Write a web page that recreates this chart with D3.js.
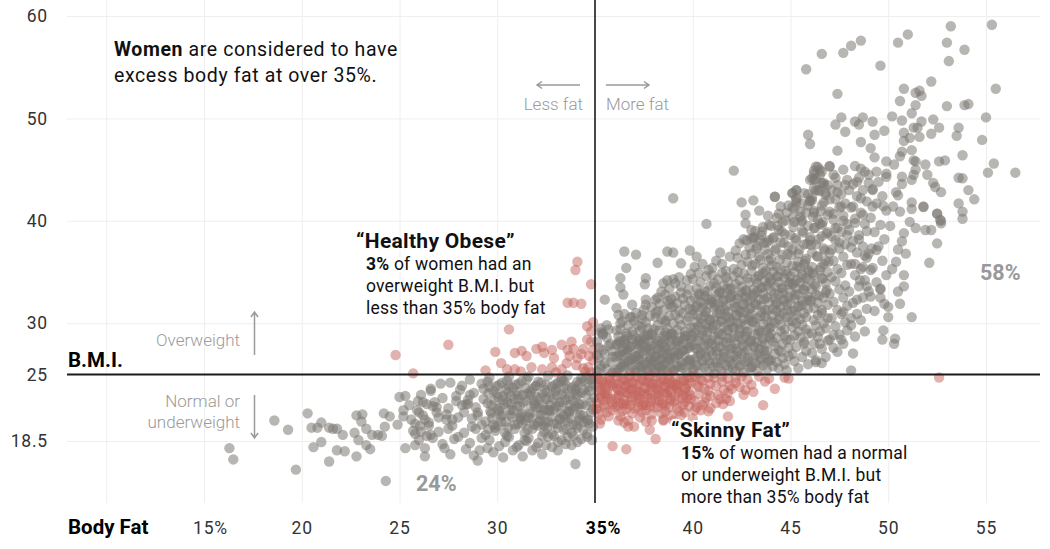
<!DOCTYPE html>
<html><head><meta charset="utf-8">
<script src="https://cdn.jsdelivr.net/npm/d3@7"></script>
<style>
body{margin:0;background:#fff;}
svg{display:block;font-family:Roboto,"Noto Sans",sans-serif;}
</style></head><body>
<svg id="chart" width="1050" height="549"></svg>
<script>
const bodyFatTicks=[10,15,20,25,30,35,40,45,50,55];
const bmiTicks=[18.5,25,30,40,50,60];

// [body fat %, BMI] — women with normal/underweight BMI and under 35% body fat
const grayLowerLeft=[
[16.3,17.8],[16.5,16.7],[18.6,20.5],[19.3,19.6],[19.7,15.7],[20.3,21.2],[20.5,19.8],[20.8,19.8],[21.0,20.3],[20.6,17.9],[21.0,18.4],[21.4,19.8],[21.6,19.7],[21.8,19.7],[21.4,16.5],[21.8,17.6],[22.2,17.5],[22.1,19.1],[22.8,17.0],[22.7,19.3],[22.9,18.6],[22.8,21.0],[23.1,21.1],[23.05,20.4],[23.3,19.7],[23.3,18.1],[23.5,17.7],[23.6,19.1],[23.9,19.1],[24.1,19.0],[24.25,19.9],[24.2,21.2],[24.5,20.9],[24.3,14.6],[25.0,22.8],[25.3,22.9],[25.5,22.0],[24.9,20.1],[25.2,21.5],[25.2,20.9],[25.3,17.8],[25.8,18.1],[25.7,19.5],[26.05,20.0],[25.95,22.4],[26.2,22.3],[26.3,17.0],[26.6,23.6],[34.0,16.25],
[25.9,21.5],[26.1,19.4],[26.3,20.6],[26.0,18.6],[26.4,22.1],[25.8,20.2],[26.2,21.0],[26.4,19.0],[26.1,23.0],[26.3,17.8],
[25.6,20.6],[25.8,19.2],[26.0,21.3],[26.5,20.0],[26.7,21.9],[27.0,20.8],
[26.6,23.4],[27.2,22.7],[26.9,21.8],[27.4,21.1],[26.5,20.3],[27.0,19.4],[26.7,18.8],[27.3,17.8],[26.8,22.3],[27.4,20.6],[26.6,19.1],[27.1,24.1],[26.9,21.3],[27.2,18.2],
[27.6,24.2],[28.1,23.5],[27.9,22.9],[28.4,22.1],[27.5,21.7],[28.0,20.8],[27.7,20.0],[28.3,19.3],[27.8,18.7],[28.4,17.7],[27.6,17.2],[28.2,23.9],[27.9,22.4],[28.3,21.3],[27.5,19.7],[28.0,18.9],[27.7,20.6],[28.2,22.0],
[28.6,24.5],[29.2,24.1],[28.8,23.2],[29.3,22.6],[28.5,22.1],[29.0,21.3],[28.7,20.7],[29.2,20.1],[28.9,19.7],[29.4,19.1],[28.6,18.3],[29.1,17.6],[28.8,17.1],[29.3,23.6],[28.5,22.5],[29.0,21.0],[28.7,19.9],[29.2,18.8],[28.9,21.8],[29.4,20.4],[28.6,23.0],[29.0,16.6],
[29.6,24.7],[30.1,24.0],[29.8,23.4],[30.3,22.9],[29.5,22.2],[30.0,21.6],[29.7,21.2],[30.2,20.4],[29.9,19.8],[30.4,19.3],[29.6,18.6],[30.1,18.0],[29.8,17.4],[30.3,16.9],[29.5,24.3],[30.0,23.1],[29.7,22.0],[30.2,20.9],[29.9,19.5],[30.4,18.4],[29.6,23.8],[30.1,21.4],[29.8,20.1],[30.3,22.5],[29.5,17.8],
[30.6,24.8],[31.1,24.1],[30.8,23.7],[31.3,23.0],[30.5,22.3],[31.0,21.9],[30.7,21.1],[31.2,20.6],[30.9,20.1],[31.4,19.3],[30.6,18.9],[31.1,18.1],[30.8,17.6],[31.3,17.0],[30.5,24.4],[31.0,23.3],[30.7,22.1],[31.2,20.8],[30.9,19.7],[31.4,18.6],[30.6,23.9],[31.1,22.6],[30.8,21.5],[31.3,20.2],[30.5,19.0],[31.0,17.9],[30.7,22.9],[31.2,21.0],
[31.6,24.8],[32.1,24.3],[31.8,23.6],[32.3,23.1],[31.5,22.4],[32.0,21.8],[31.7,21.2],[32.2,20.5],[31.9,20.1],[32.4,19.4],[31.6,18.8],[32.1,18.3],[31.8,17.6],[32.3,17.2],[31.5,24.5],[32.0,23.9],[31.7,23.3],[32.2,22.7],[31.9,22.0],[32.4,21.5],[31.6,20.8],[32.1,20.3],[31.8,19.7],[32.3,19.0],[31.5,18.5],[32.0,17.9],[31.7,23.0],[32.2,21.1],[31.9,22.2],[32.4,20.0],
[32.6,24.9],[33.1,24.2],[32.8,23.8],[33.3,23.1],[32.5,22.6],[33.0,21.9],[32.7,21.4],[33.2,20.7],[32.9,20.2],[33.4,19.6],[32.6,18.9],[33.1,18.4],[32.8,17.9],[33.3,24.6],[32.5,24.0],[33.0,23.4],[32.7,22.8],[33.2,22.3],[32.9,21.6],[33.4,21.0],[32.6,20.4],[33.1,19.8],[32.8,19.2],[33.3,18.6],[32.5,18.1],[33.0,23.6],[32.7,22.0],[33.2,20.6],[32.9,19.0],[33.4,24.4],[32.6,21.5],[33.1,17.6],
[33.6,24.9],[34.1,24.3],[33.8,23.7],[34.3,23.2],[33.5,22.5],[34.0,21.9],[33.7,21.3],[34.2,20.8],[33.9,20.1],[34.4,19.6],[33.6,18.9],[34.1,18.4],[33.8,18.1],[34.3,24.6],[33.5,24.0],[34.0,23.4],[33.7,22.8],[34.2,22.1],[33.9,21.6],[34.4,21.0],[33.6,20.4],[34.1,19.8],[33.8,19.3],[34.3,18.7],[33.5,18.2],[34.0,23.6],[33.7,22.0],[34.2,20.5],[33.9,19.0],[34.4,24.4],[33.6,21.4],[34.1,23.0],
[34.6,24.8],[34.9,24.1],[34.7,23.4],[34.95,22.7],[34.55,22.0],[34.8,21.3],[34.65,20.6],[34.9,19.9],[34.6,19.2],[34.85,18.6],[34.75,24.5],[34.55,23.0],[34.9,21.6],[34.7,20.2],[34.6,18.9],
[29.55,19.65],[30.05,20.0],[30.45,20.35],[29.75,20.7],[30.25,21.05],[29.65,21.4],[30.15,21.75],[30.35,22.1],[29.85,22.45],[30.05,22.8],[29.55,23.15],[30.45,23.5],[29.95,23.85],[30.25,24.2],
[30.55,19.8],[31.05,20.15],[31.45,20.5],[30.75,20.85],[31.25,21.2],[30.65,21.55],[31.15,21.9],[31.35,22.25],[30.85,22.6],[31.05,22.95],[30.55,23.3],[31.45,23.65],[30.95,24.0],[31.25,24.35],
[31.55,19.65],[32.05,20.0],[32.45,20.35],[31.75,20.7],[32.25,21.05],[31.65,21.4],[32.15,21.75],[32.35,22.1],[31.85,22.45],[32.05,22.8],[31.55,23.15],[32.45,23.5],[31.95,23.85],[32.25,24.2],
[32.55,19.8],[33.05,20.15],[33.45,20.5],[32.75,20.85],[33.25,21.2],[32.65,21.55],[33.15,21.9],[33.35,22.25],[32.85,22.6],[33.05,22.95],[32.55,23.3],[33.45,23.65],[32.95,24.0],[33.25,24.35],
[33.55,19.65],[34.05,20.0],[34.45,20.35],[33.75,20.7],[34.25,21.05],[33.65,21.4],[34.15,21.75],[34.35,22.1],[33.85,22.45],[34.05,22.8],[33.55,23.15],[34.45,23.5],[33.95,23.85],[34.25,24.2],
[34.6,20.5],[34.8,22.3],[34.7,23.8],[34.9,24.6]
];

// overweight BMI but under 35% body fat ("healthy obese")
const redHealthyObese=[
[24.8,26.9],[25.7,25.1],[27.5,27.9],[29.9,27.2],[30.6,29.4],[30.9,27.1],[31.25,27.3],[31.5,26.8],[32.0,27.5],[32.3,27.7],[32.4,27.1],[32.8,27.4],[32.9,26.6],[33.3,27.9],[33.6,27.4],[33.8,28.2],[33.9,27.5],[34.1,26.6],[34.4,27.5],[34.6,28.4],[34.7,26.8],[34.8,29.2],[34.8,28.2],[34.9,27.4],[34.9,26.4],[30.2,26.1],[30.5,25.5],[30.9,25.5],[31.75,25.7],[32.3,25.5],[32.8,25.7],[33.3,25.5],[33.55,26.1],[34.05,25.9],[34.4,25.6],[34.65,25.7],[34.1,36.0],[34.0,35.2],[34.8,33.8],[33.6,32.0],[33.9,32.0],[34.3,31.9],[34.9,30.1],[34.5,25.3],[33.0,25.2],[31.2,25.3],[34.8,25.2],[29.4,25.4],[33.7,26.8],[34.3,27.0],[34.6,29.7]
];

// normal/underweight BMI but over 35% body fat ("skinny fat")
const redSkinnyFat=[
[35.9,18.0],[36.6,17.7],[38.1,18.7],[37.8,19.6],[41.8,20.9],[43.6,22.0],[44.2,23.6],[44.7,24.7],[44.9,24.6],[43.1,23.3],[42.7,23.5],[42.4,23.8],[42.2,24.7],[41.55,22.1],[40.8,21.4],[40.1,21.5],[40.0,20.7],[39.3,21.4],[39.0,20.5],[38.5,20.5],[37.9,20.5],[36.7,19.9],[36.2,20.5],[35.25,20.2],[52.6,24.7],
[35.1,24.8],[35.4,24.3],[35.7,24.6],[35.2,23.8],[35.6,23.4],[35.9,23.9],[35.3,22.9],[35.8,22.6],[35.1,22.2],[35.5,21.8],[35.9,21.5],[35.2,21.1],[35.7,20.9],[35.4,24.0],[35.8,24.4],[35.3,23.5],[35.6,22.8],[35.1,21.6],[35.5,23.1],[35.9,22.1],[35.2,24.5],[35.7,24.0],[35.4,22.5],[35.6,21.3],[35.3,20.6],
[36.1,24.8],[36.5,24.5],[36.8,24.7],[36.2,24.1],[36.6,23.8],[36.9,24.2],[36.3,23.4],[36.7,23.1],[36.1,22.7],[36.5,22.4],[36.9,22.8],[36.2,21.9],[36.6,21.6],[36.9,21.2],[36.3,20.9],[36.7,20.5],[36.4,24.4],[36.8,23.6],[36.2,23.0],[36.6,22.1],[36.4,21.4],[36.8,22.0],[36.1,23.7],[36.5,23.3],[36.9,23.5],[36.3,22.2],[36.7,24.1],[36.5,20.3],
[37.1,24.8],[37.5,24.4],[37.8,24.7],[37.2,24.0],[37.6,23.7],[37.9,24.1],[37.3,23.3],[37.7,22.9],[37.1,22.6],[37.5,22.2],[37.9,22.7],[37.2,21.8],[37.6,21.5],[37.9,21.1],[37.3,20.8],[37.4,24.5],[37.8,23.4],[37.2,23.0],[37.6,22.0],[37.4,21.3],[37.8,21.9],[37.1,23.6],[37.5,23.1],[37.9,23.8],[37.3,22.3],[37.7,24.3],[37.6,20.4],[37.0,19.9],
[38.1,24.8],[38.5,24.5],[38.8,24.6],[38.2,24.1],[38.6,23.8],[38.9,24.0],[38.3,23.4],[38.7,23.0],[38.1,22.6],[38.5,22.2],[38.9,22.7],[38.2,21.8],[38.6,21.4],[38.9,21.0],[38.4,24.3],[38.8,23.5],[38.2,23.1],[38.6,22.0],[38.4,21.2],[38.8,21.8],[38.1,23.7],[38.5,23.2],[38.9,23.3],[38.3,22.4],[38.7,24.2],[38.5,20.6],
[39.1,24.8],[39.5,24.4],[39.8,24.7],[39.2,24.0],[39.6,23.6],[39.9,24.2],[39.3,23.2],[39.7,22.8],[39.1,22.5],[39.5,22.0],[39.9,22.6],[39.2,21.7],[39.6,21.3],[39.4,24.5],[39.8,23.3],[39.2,23.6],[39.6,22.3],[39.4,21.0],[39.8,21.9],[39.1,23.9],[39.5,23.0],[39.7,24.0],
[40.1,24.8],[40.5,24.4],[40.8,24.7],[40.2,24.0],[40.6,23.6],[40.9,24.1],[40.3,23.1],[40.7,22.7],[40.1,22.4],[40.5,22.0],[40.9,22.9],[40.2,21.8],[40.4,24.5],[40.8,23.4],[40.3,23.8],[40.6,22.3],[40.4,21.5],[40.9,21.7],
[41.1,24.7],[41.5,24.3],[41.8,24.6],[41.2,23.9],[41.6,23.5],[41.9,23.9],[41.3,23.0],[41.7,22.6],[41.2,22.2],[41.5,24.8],[41.8,23.2],[41.4,22.6],[41.9,22.4],
[42.2,24.2],[42.5,24.8],[42.8,24.5],[43.0,24.0],[43.4,24.8],[43.7,24.3],[42.6,23.0],[43.9,24.6],[42.0,23.6],
[35.05,21.65],[35.45,22.0],[35.85,22.35],[35.25,22.7],[35.65,23.05],[35.15,23.4],[35.55,23.75],[35.95,24.1],[35.35,24.45],[35.75,24.85],
[36.05,21.8],[36.45,22.15],[36.85,22.5],[36.25,22.85],[36.65,23.2],[36.15,23.55],[36.55,23.9],[36.95,24.25],[36.35,24.6],[36.75,24.9],
[37.05,21.65],[37.45,22.0],[37.85,22.35],[37.25,22.7],[37.65,23.05],[37.15,23.4],[37.55,23.75],[37.95,24.1],[37.35,24.45],[37.75,24.85],
[38.05,21.8],[38.45,22.15],[38.85,22.5],[38.25,22.85],[38.65,23.2],[38.15,23.55],[38.55,23.9],[38.95,24.25],[38.35,24.6],[38.75,24.9],
[39.05,22.3],[39.45,22.65],[39.85,23.0],[39.25,23.35],[39.65,23.7],[39.15,24.05],[39.55,24.4],[39.95,24.75]
];

// overweight BMI and over 35% body fat
const grayUpperRight=[
[39.0,42.2],[42.1,44.9],[40.7,39.7],[36.5,37.0],[37.1,36.7],[36.6,35.4],[38.2,35.9],[36.3,34.4],[36.3,33.5],[36.45,32.8],[35.5,32.3],[37.6,34.4],[37.55,33.8],[38.1,32.3],[37.6,32.3],[38.7,37.0],[39.0,36.9],[39.4,35.85],[39.85,37.1],[40.2,36.5],[38.7,34.2],[39.0,34.3],[38.5,33.9],[36.1,31.5],[36.2,30.8],[36.3,30.0],[36.9,31.8],[37.4,30.8],[36.9,30.6],[35.3,29.5],[35.4,29.0],
[42.5,41.8],[43.1,42.0],[43.4,41.0],[42.7,40.6],[42.7,39.75],[43.0,39.1],[42.75,38.1],[43.0,38.3],[43.45,38.1],[43.9,38.1],[43.85,40.5],[43.9,39.6],[44.2,42.35],[44.5,41.4],[44.4,40.7],[44.9,41.5],[45.1,42.7],[45.3,43.0],[45.3,41.8],[46.0,42.0],[46.2,44.6],[46.3,45.3],[46.5,45.0],[47.0,45.35],[46.7,43.7],[46.4,43.0],[46.8,42.7],[46.2,44.0],
[52.5,40.7],[52.65,40.1],[52.7,39.75],[52.2,39.1],[51.9,39.1],[52.5,37.8],[52.1,35.9],[51.4,39.3],[51.1,39.9],[51.8,41.4],[50.8,38.8],[50.7,38.0],[50.4,36.0],[50.8,34.7],[50.8,33.6],[50.5,33.1],[50.0,31.6],[50.0,30.6],[51.2,30.6],[49.75,29.3],[49.7,28.4],[50.35,28.5],[50.3,28.0],[49.6,33.4],[49.6,32.5],[49.0,33.1],[49.1,35.2],[49.4,37.15],[48.2,27.05],[48.1,25.4],[47.4,27.2],[46.6,26.1],[46.3,26.4],[47.6,28.4],[47.2,28.85],[46.5,28.0],[48.1,30.5],[47.7,31.1],[48.4,32.3],[48.9,33.6],[48.55,34.2],[49.15,37.3],[48.7,35.5],[50.25,41.4],[49.75,41.45],[49.2,41.4],
[53.2,59.0],[55.3,59.15],[51.0,58.2],[50.5,57.4],[53.0,57.4],[53.9,56.7],[53.1,55.6],[48.6,57.6],[48.1,57.1],[47.7,56.4],[46.6,56.3],[45.8,54.8],[49.6,55.15],[47.4,52.4],[52.2,53.6],[55.5,52.9],
[50.8,52.9],[51.4,52.5],[51.6,52.7],[51.7,52.2],[50.6,51.7],[51.4,51.3],[53.0,51.2],[53.9,51.3],[54.1,51.4],[51.2,50.5],[50.2,50.2],[47.6,50.1],[47.3,49.4],[48.3,49.7],[48.5,49.4],[48.7,50.1],[49.2,49.7],[50.7,49.8],[51.7,49.7],[52.3,49.9],[55.0,50.1],[47.8,48.7],[49.3,48.4],[49.8,48.8],[50.8,48.6],[51.3,49.1],[51.5,49.1],[51.6,48.2],[52.2,48.5],[52.6,49.1],[53.6,49.1],[53.5,48.3],[45.9,48.4],[46.0,47.5],[48.6,47.7],[49.1,47.1],[50.8,47.8],[51.1,48.1],[54.8,47.9],[47.4,46.85],[49.3,46.2],[49.9,45.8],[50.6,46.3],[50.7,46.75],[51.2,46.9],[51.3,45.9],[51.4,45.8],[51.9,45.5],[52.6,45.8],[52.9,45.9],[53.8,46.4],[55.4,45.6],[55.1,44.7],[56.5,44.7],[48.3,45.35],[48.6,45.1],[47.0,45.3],[46.4,45.25],[46.2,44.9],[46.6,44.8],[49.4,44.8],[49.9,44.6],[49.9,44.3],[50.7,44.3],[51.2,44.0],[51.3,44.5],[51.4,45.0],[52.0,44.5],[52.3,43.7],[52.4,43.3],[52.7,42.8],[53.6,44.2],[53.8,44.15],[54.1,43.0],[54.4,42.1],[49.0,43.7],[49.2,43.0],[46.1,44.15],[46.2,43.2],[46.6,43.7],[50.5,42.5],[53.6,41.7],[53.8,40.9],[53.8,40.2],[46.0,41.9],[51.2,41.8],[51.2,41.15],[51.8,41.35],[52.5,40.7],[52.7,40.0],[50.6,40.9],[44.2,42.35],[45.1,42.7],[45.3,43.0],
[50.2,35.3],[50.5,37.2],[50.1,39.5],[50.4,42.8],[50.7,43.6],[50.3,45.5],[50.9,36.8],[50.6,31.9],
[35.1,25.3],[35.6,25.5],[35.3,25.9],[35.8,26.2],[35.2,26.6],[35.5,27.0],[35.9,25.2],[35.4,27.4],[35.7,27.8],[35.1,28.2],[35.6,28.6],[35.3,29.1],[35.9,26.7],[35.2,27.6],[35.8,28.0],[35.5,26.1],[35.4,28.9],[35.7,29.4],[35.1,26.9],[35.9,27.3],[35.3,25.6],[35.6,29.8],
[36.1,25.2],[36.5,25.6],[36.8,25.3],[36.3,26.0],[36.7,26.3],[36.2,26.8],[36.6,27.1],[36.9,26.6],[36.4,27.5],[36.1,27.9],[36.8,27.7],[36.5,28.3],[36.2,28.7],[36.9,28.4],[36.6,29.0],[36.3,29.4],[36.7,29.8],[36.4,30.2],[36.8,30.6],[36.1,29.3],[36.5,26.1],[36.9,25.8],[36.2,25.5],[36.6,28.0],[36.4,26.9],[36.7,27.4],[36.3,28.1],[36.9,29.2],[36.5,30.9],
[37.1,25.2],[37.4,25.5],[37.7,25.3],[37.9,25.7],[37.2,25.9],[37.6,26.1],[37.3,26.4],[37.8,26.6],[37.1,26.8],[37.5,27.0],[37.9,27.2],[37.2,27.5],[37.6,27.7],[37.4,28.0],[37.8,28.2],[37.1,28.5],[37.5,28.7],[37.9,29.0],[37.3,29.3],[37.7,29.5],[37.2,29.8],[37.6,30.1],[37.4,30.4],[37.8,30.7],[37.1,31.0],[37.5,31.3],[37.9,31.6],[37.3,27.9],[37.7,28.9],[37.6,25.4],[37.2,26.5],[37.8,27.5],[37.4,29.6],[37.0,30.2],[37.6,31.8],[37.9,26.0],[37.3,28.4],
[38.1,25.2],[38.4,25.5],[38.7,25.3],[38.9,25.7],[38.2,25.9],[38.6,26.1],[38.3,26.4],[38.8,26.6],[38.1,26.8],[38.5,27.0],[38.9,27.2],[38.2,27.5],[38.6,27.7],[38.4,28.0],[38.8,28.2],[38.1,28.5],[38.5,28.7],[38.9,29.0],[38.3,29.3],[38.7,29.5],[38.2,29.8],[38.6,30.1],[38.4,30.4],[38.8,30.7],[38.1,31.0],[38.5,31.3],[38.9,31.6],[38.3,31.9],[38.7,32.2],[38.2,32.5],[38.6,32.8],[38.4,33.1],[38.8,33.4],[38.5,25.4],[38.0,26.2],[38.7,26.9],[38.3,27.8],[38.9,28.6],[38.0,29.4],[38.6,30.3],[38.2,31.2],[38.8,31.9],[38.4,26.5],[38.6,29.1],[38.1,30.6],[38.9,32.4],
[39.7,25.2],[39.0,25.4],[39.5,25.6],[39.2,25.8],[39.9,26.0],[39.4,26.2],[39.8,26.4],[39.1,26.6],[39.6,26.8],[39.3,27.0],
[39.1,27.2],[39.5,27.4],[39.8,27.6],[39.3,27.8],[39.7,28.0],[39.2,28.2],[39.9,28.4],[39.4,28.6],[39.6,28.8],[39.0,29.0],
[39.6,29.2],[39.2,29.4],[39.9,29.6],[39.4,29.8],[39.0,30.0],[39.7,30.2],[39.3,30.4],[39.8,30.6],[39.1,30.8],[39.5,31.0],
[39.3,31.2],[39.8,31.4],[39.0,31.6],[39.6,31.8],[39.2,32.0],[39.9,32.2],[39.5,32.4],[39.1,32.6],[39.7,32.8],[39.4,33.0],
[39.8,33.3],[39.4,33.6],[39.1,33.9],[39.7,34.2],[39.3,34.5],[39.9,34.8],
[40.3,25.1],[40.8,25.3],[40.0,25.5],[40.6,25.7],[40.2,25.9],[40.9,26.1],[40.5,26.3],[40.1,26.5],[40.7,26.7],[40.4,26.9],
[40.4,27.1],[40.9,27.3],[40.2,27.5],[40.6,27.7],[40.1,27.9],[40.8,28.1],[40.3,28.3],[40.7,28.5],[40.0,28.7],[40.5,28.9],
[40.1,29.1],[40.5,29.3],[40.8,29.5],[40.3,29.7],[40.7,29.9],[40.2,30.1],[40.9,30.3],[40.4,30.5],[40.6,30.7],[40.0,30.9],
[40.7,31.1],[40.0,31.3],[40.5,31.5],[40.2,31.7],[40.9,31.9],[40.4,32.1],[40.8,32.3],[40.1,32.5],[40.6,32.7],[40.3,32.9],
[40.6,33.1],[40.2,33.4],[40.9,33.7],[40.4,34.0],[40.0,34.3],[40.7,34.6],[40.3,34.9],[40.8,35.2],[40.1,35.5],[40.5,35.8],
[41.1,25.1],[41.5,25.3],[41.8,25.5],[41.3,25.7],[41.7,25.9],[41.2,26.1],[41.9,26.3],[41.4,26.5],[41.6,26.7],[41.0,26.9],
[41.6,27.1],[41.2,27.3],[41.9,27.5],[41.4,27.7],[41.0,27.9],[41.7,28.1],[41.3,28.3],[41.8,28.5],[41.1,28.7],[41.5,28.9],
[41.3,29.1],[41.8,29.3],[41.0,29.5],[41.6,29.7],[41.2,29.9],[41.9,30.1],[41.5,30.3],[41.1,30.5],[41.7,30.7],[41.4,30.9],
[41.8,31.1],[41.4,31.3],[41.1,31.5],[41.7,31.7],[41.3,31.9],[41.0,32.1],[41.6,32.3],[41.9,32.5],[41.2,32.7],[41.5,32.9],
[41.4,33.1],[41.9,33.3],[41.2,33.5],[41.6,33.7],[41.1,33.9],[41.8,34.1],[41.3,34.3],[41.7,34.5],[41.0,34.7],[41.5,34.9],
[41.7,35.1],[41.0,35.4],[41.5,35.8],[41.2,36.1],[41.9,36.5],[41.4,36.9],
[42.6,25.2],[42.2,25.4],[42.9,25.6],[42.4,25.8],[42.0,26.0],[42.7,26.2],[42.3,26.4],[42.8,26.6],[42.1,26.8],[42.5,27.0],
[42.3,27.2],[42.8,27.4],[42.0,27.6],[42.6,27.8],[42.2,28.0],[42.9,28.2],[42.5,28.4],[42.1,28.6],[42.7,28.8],[42.4,29.0],
[42.8,29.2],[42.4,29.4],[42.1,29.6],[42.7,29.8],[42.3,30.0],[42.0,30.2],[42.6,30.4],[42.9,30.6],[42.2,30.8],[42.5,31.0],
[42.4,31.2],[42.9,31.4],[42.2,31.6],[42.6,31.8],[42.1,32.0],[42.8,32.2],[42.3,32.4],[42.7,32.6],[42.0,32.8],[42.5,33.0],
[42.7,33.2],[42.0,33.4],[42.5,33.6],[42.2,33.8],[42.9,34.0],[42.4,34.2],[42.8,34.4],[42.1,34.6],[42.6,34.8],[42.3,35.0],
[42.1,35.3],[42.5,35.7],[42.8,36.0],[42.3,36.4],[42.7,36.7],[42.2,37.1],[42.9,37.4],[42.4,37.8],[42.6,38.2],
[43.3,25.3],[43.8,25.5],[43.0,25.7],[43.6,25.9],[43.2,26.1],[43.9,26.3],[43.5,26.5],[43.1,26.7],[43.7,26.9],[43.4,27.1],
[43.8,27.3],[43.4,27.5],[43.1,27.7],[43.7,27.9],[43.3,28.1],[43.0,28.3],[43.6,28.5],[43.9,28.7],[43.2,28.9],[43.5,29.1],
[43.4,29.3],[43.9,29.5],[43.2,29.7],[43.6,29.9],[43.1,30.1],[43.8,30.3],[43.3,30.5],[43.7,30.7],[43.0,30.9],[43.5,31.1],
[43.7,31.3],[43.0,31.5],[43.5,31.7],[43.2,31.9],[43.9,32.1],[43.4,32.3],[43.8,32.5],[43.1,32.7],[43.6,32.9],[43.3,33.1],
[43.1,33.3],[43.5,33.5],[43.8,33.7],[43.3,33.9],[43.7,34.1],[43.2,34.3],[43.9,34.5],[43.4,34.7],[43.6,34.9],[43.0,35.1],
[43.6,35.4],[43.2,35.8],[43.9,36.1],[43.4,36.5],[43.0,36.8],[43.7,37.2],[43.3,37.5],[43.8,37.9],[43.1,38.3],[43.5,38.6],[43.2,39.0],[43.6,39.4],
[44.8,25.4],[44.4,25.6],[44.1,25.8],[44.7,26.0],[44.3,26.2],[44.0,26.4],[44.6,26.6],[44.9,26.8],[44.2,27.0],[44.5,27.2],
[44.4,27.4],[44.9,27.6],[44.2,27.8],[44.6,28.0],[44.1,28.2],[44.8,28.4],[44.3,28.6],[44.7,28.8],[44.0,29.0],[44.5,29.2],
[44.7,29.4],[44.0,29.6],[44.5,29.8],[44.2,30.0],[44.9,30.2],[44.4,30.4],[44.8,30.6],[44.1,30.8],[44.6,31.0],[44.3,31.2],
[44.1,31.4],[44.5,31.6],[44.8,31.8],[44.3,32.0],[44.7,32.2],[44.2,32.4],[44.9,32.6],[44.4,32.8],[44.6,33.0],[44.0,33.2],
[44.6,33.4],[44.2,33.6],[44.9,33.8],[44.4,34.0],[44.0,34.2],[44.7,34.4],[44.3,34.6],[44.8,34.8],[44.1,35.0],[44.5,35.2],
[44.3,35.5],[44.8,35.9],[44.0,36.3],[44.6,36.7],[44.2,37.1],[44.9,37.5],[44.5,37.9],[44.1,38.3],[44.7,38.7],[44.4,39.1],[44.0,39.5],[44.6,39.9],[44.3,40.3],[44.8,40.8],
[45.4,25.6],[45.9,26.0],[45.2,26.3],[45.6,26.7],[45.1,27.0],[45.8,27.3],[45.3,27.7],[45.7,28.0],
[45.7,28.2],[45.0,28.4],[45.5,28.6],[45.2,28.8],[45.9,29.0],[45.4,29.2],[45.8,29.4],[45.1,29.6],[45.6,29.8],[45.3,30.0],
[45.1,30.2],[45.5,30.4],[45.8,30.6],[45.3,30.8],[45.7,31.0],[45.2,31.2],[45.9,31.4],[45.4,31.6],[45.6,31.8],[45.0,32.0],
[45.6,32.2],[45.2,32.4],[45.9,32.6],[45.4,32.8],[45.0,33.0],[45.7,33.2],[45.3,33.4],[45.8,33.6],[45.1,33.8],[45.5,34.0],
[45.3,34.2],[45.8,34.4],[45.0,34.6],[45.6,34.8],[45.2,35.0],[45.9,35.2],[45.5,35.4],[45.1,35.6],[45.7,35.8],[45.4,36.0],
[45.8,36.3],[45.4,36.8],[45.1,37.2],[45.7,37.7],[45.3,38.1],[45.0,38.6],[45.6,39.0],[45.9,39.5],[45.2,39.9],[45.5,40.4],[45.8,40.8],[45.1,41.3],[45.6,41.7],[45.3,42.2],[45.9,42.6],
[46.3,26.2],[46.8,26.7],[46.1,27.1],[46.6,27.5],[46.2,28.0],[46.9,28.3],[46.4,28.7],
[46.1,29.0],[46.5,29.2],[46.8,29.5],[46.3,29.8],[46.7,30.0],[46.2,30.3],[46.9,30.5],[46.4,30.8],[46.6,31.0],
[46.6,31.3],[46.2,31.5],[46.9,31.8],[46.4,32.0],[46.0,32.3],[46.7,32.5],[46.3,32.8],[46.8,33.0],[46.1,33.3],
[46.3,33.6],[46.8,33.9],[46.0,34.2],[46.6,34.4],[46.2,34.7],[46.9,35.0],[46.5,35.2],[46.1,35.5],[46.7,35.8],
[46.8,36.1],[46.4,36.5],[46.1,36.9],[46.7,37.3],[46.3,37.7],[46.0,38.1],[46.6,38.5],[46.9,38.9],[46.2,39.3],[46.5,39.7],
[46.4,40.1],[46.9,40.6],[46.2,41.0],[46.6,41.5],[46.1,42.0],[46.8,42.5],[46.3,43.0],[46.7,43.5],[46.0,44.0],[46.5,44.5],
[47.2,27.6],[47.7,28.0],[47.0,28.4],[47.5,28.9],[47.9,29.3],[47.3,29.7],[47.8,30.1],[47.1,30.5],[47.6,30.9],[47.4,31.3],[47.9,31.7],[47.2,32.1],[47.7,32.5],[47.0,32.9],[47.5,33.3],[47.8,33.7],[47.3,34.1],[47.1,34.5],[47.6,34.9],[47.4,35.3],[47.9,35.7],[47.2,36.1],[47.7,36.5],[47.0,36.9],[47.5,37.3],[47.8,37.7],[47.3,38.1],[47.1,38.5],[47.6,38.9],[47.4,39.3],[47.9,39.7],[47.2,40.1],[47.7,40.5],[47.0,40.9],[47.5,41.3],[47.8,41.7],[47.3,42.1],[47.6,42.6],[47.1,43.0],[47.4,43.5],[47.9,44.0],[47.2,44.5],[47.7,45.0],
[48.3,28.7],[48.8,29.2],[48.1,29.8],[48.6,30.3],[48.4,30.9],[48.9,31.4],[48.2,32.0],[48.7,32.5],[48.0,33.1],[48.5,33.6],[48.8,34.2],[48.3,34.7],[48.6,35.3],[48.1,35.8],[48.9,36.4],[48.4,36.9],[48.7,37.5],[48.2,38.0],[48.5,38.6],[48.0,39.1],[48.8,39.7],[48.3,40.2],[48.6,40.8],[48.1,41.3],[48.9,41.9],[48.4,42.4],[48.7,43.0],[48.2,43.6],[48.5,44.2],[48.8,44.8],
[49.3,31.2],[49.8,31.9],[49.1,32.6],[49.6,33.3],[49.4,34.0],[49.9,34.7],[49.2,35.4],[49.7,36.1],[49.0,36.8],[49.5,37.5],[49.8,38.2],[49.3,38.9],[49.6,39.6],[49.1,40.3],[49.9,41.0],[49.4,41.7],[49.7,42.4],[49.2,43.1],[49.5,43.8],[49.0,44.5],
[36.05,25.45],[36.45,25.95],[36.85,26.45],[36.25,26.95],[36.65,27.45],[36.15,27.95],[36.55,28.45],[36.95,28.85],[36.35,25.75],[36.75,26.25],[36.05,26.75],[36.45,27.25],[36.85,27.75],[36.25,28.25],[36.65,28.75],
[37.05,25.45],[37.45,25.95],[37.85,26.45],[37.25,26.95],[37.65,27.45],[37.15,27.95],[37.55,28.45],[37.95,28.85],[37.35,25.75],[37.75,26.25],[37.05,26.75],[37.45,27.25],[37.85,27.75],[37.25,28.25],[37.65,28.75],
[38.05,25.45],[38.45,25.95],[38.85,26.45],[38.25,26.95],[38.65,27.45],[38.15,27.95],[38.55,28.45],[38.95,28.85],[38.35,25.75],[38.75,26.25],[38.05,26.75],[38.45,27.25],[38.85,27.75],[38.25,28.25],[38.65,28.75],
[39.05,25.45],[39.45,25.95],[39.85,26.45],[39.25,26.95],[39.65,27.45],[39.15,27.95],[39.55,28.45],[39.95,28.85],[39.35,25.75],[39.75,26.25],[39.05,26.75],[39.45,27.25],[39.85,27.75],[39.25,28.25],[39.65,28.75],
[40.05,25.55],[40.45,25.95],[40.85,26.35],[40.25,26.75],[40.65,27.15],[40.15,27.55],[40.55,27.95],[40.95,28.35],[40.35,28.75],[40.75,29.15],[40.05,29.55],[40.45,29.95],[40.85,30.35],[40.25,30.75],[40.65,31.15],[40.15,31.55],[40.55,31.95],[40.95,32.35],[40.35,32.75],[40.75,33.15],
[41.05,25.75],[41.45,26.15],[41.85,26.55],[41.25,26.95],[41.65,27.35],[41.15,27.75],[41.55,28.15],[41.95,28.55],[41.35,28.95],[41.75,29.35],[41.05,29.75],[41.45,30.15],[41.85,30.55],[41.25,30.95],[41.65,31.35],[41.15,31.75],[41.55,32.15],[41.95,32.55],[41.35,32.95],[41.75,33.35],
[42.05,25.55],[42.45,25.95],[42.85,26.35],[42.25,26.75],[42.65,27.15],[42.15,27.55],[42.55,27.95],[42.95,28.35],[42.35,28.75],[42.75,29.15],[42.05,29.55],[42.45,29.95],[42.85,30.35],[42.25,30.75],[42.65,31.15],[42.15,31.55],[42.55,31.95],[42.95,32.35],[42.35,32.75],[42.75,33.15],
[43.05,25.75],[43.45,26.15],[43.85,26.55],[43.25,26.95],[43.65,27.35],[43.15,27.75],[43.55,28.15],[43.95,28.55],[43.35,28.95],[43.75,29.35],
[43.05,30.15],[43.45,30.7],[43.85,31.25],[43.25,31.8],[43.65,32.35],[43.15,32.9],[43.55,33.45],[43.95,34.0],[43.35,34.55],[43.75,35.1],[43.05,35.65],[43.45,36.2],[43.85,36.75],[43.25,37.3],[43.65,37.85],[43.15,38.4],[43.55,38.95],
[44.05,30.15],[44.45,30.7],[44.85,31.25],[44.25,31.8],[44.65,32.35],[44.15,32.9],[44.55,33.45],[44.95,34.0],[44.35,34.55],[44.75,35.1],[44.05,35.65],[44.45,36.2],[44.85,36.75],[44.25,37.3],[44.65,37.85],[44.15,38.4],[44.55,38.95],[44.35,39.5],[44.75,40.05],
[45.05,31.15],[45.45,31.7],[45.85,32.25],[45.25,32.8],[45.65,33.35],[45.15,33.9],[45.55,34.45],[45.95,35.0],[45.35,35.55],[45.75,36.1],[45.05,36.65],[45.45,37.2],[45.85,37.75],[45.25,38.3],[45.65,38.85],[45.15,39.4],[45.55,39.95],
[46.05,32.15],[46.45,32.7],[46.85,33.25],[46.25,33.8],[46.65,34.35],[46.15,34.9],[46.55,35.45],[46.95,36.0],[46.35,36.55],[46.75,37.1],[46.05,37.65],[46.45,38.2],[46.85,38.75],[46.25,39.3],[46.65,39.85],[46.15,40.4],[46.55,40.95],
[45.1,40.3],[45.5,40.9],[45.9,41.5],[45.3,42.1],[45.7,42.7],[45.2,41.2],[45.6,40.0],
[46.1,42.3],[46.5,42.9],[46.9,43.5],[46.3,44.1],[46.7,41.8],[46.2,40.8],[46.6,39.6],[46.0,38.4],
[47.1,37.2],[47.5,37.9],[47.9,38.6],[47.3,39.3],[47.7,40.0],[47.2,40.7],[47.6,41.4],[47.0,42.1],[47.4,42.8],[47.8,43.5],[47.3,44.2],
[48.1,37.4],[48.5,38.2],[48.9,39.0],[48.3,39.8],[48.7,40.6],[48.2,41.4],[48.6,42.2],[48.0,43.0],[48.4,43.8],[48.8,36.6],[48.3,35.8]
];

const svg=d3.select("#chart");
const plotLeft=67, plotRight=1040, plotBottom=503;
const x=d3.scaleLinear().domain([15,55]).range([204,986]);
const y=d3.scaleLinear().domain([18.5,60]).range([441,16]);

// x axis: gridlines + labels
const xAxis=d3.axisBottom(x).tickValues(bodyFatTicks).tickSize(-plotBottom)
  .tickFormat(d=>d===10?"":(d===15||d===35)?d+"%":String(d));
const gx=svg.append("g").attr("transform",`translate(0,${plotBottom})`).call(xAxis)
  .attr("font-family",null).attr("font-size",null);
gx.select(".domain").remove();
gx.selectAll(".tick line").attr("stroke",d=>d===35?"none":"#eeeeee");
gx.selectAll(".tick text").attr("y",31).attr("dy",0)
  .attr("dx",d=>d===15?6:d===35?8:0)
  .attr("fill",d=>d===35?"#000":"#333")
  .attr("font-weight",d=>d===35?700:400)
  .style("font-size","17.5px").style("letter-spacing","0.8px");

// y axis: gridlines + labels
const yAxis=d3.axisLeft(y).tickValues(bmiTicks).tickSize(-(plotRight-plotLeft)).tickPadding(19)
  .tickFormat(d=>String(d));
const gy=svg.append("g").attr("transform",`translate(${plotLeft},0)`).call(yAxis)
  .attr("font-family",null).attr("font-size",null);
gy.select(".domain").remove();
gy.selectAll(".tick line").attr("stroke",d=>d===25?"none":"#eeeeee");
gy.selectAll(".tick text").attr("fill","#333").style("font-size","17.5px").style("letter-spacing","0.8px");

// dots
function drawDots(data,color,op){
  svg.append("g").selectAll("circle").data(data).join("circle")
    .attr("cx",d=>x(d[0])).attr("cy",d=>y(d[1])).attr("r",5.2)
    .attr("fill",color).attr("fill-opacity",op);
}
drawDots(grayLowerLeft,"#7b7873",0.54);
drawDots(grayUpperRight,"#7b7873",0.54);
drawDots(redHealthyObese,"#c4665e",0.5);
drawDots(redSkinnyFat,"#c4665e",0.5);

// threshold lines
svg.append("line").attr("x1",x(35)).attr("x2",x(35)).attr("y1",0).attr("y2",plotBottom)
  .attr("stroke","#1a1a1a").attr("stroke-width",1.6);
svg.append("line").attr("x1",plotLeft).attr("x2",plotRight).attr("y1",y(25)).attr("y2",y(25))
  .attr("stroke","#1a1a1a").attr("stroke-width",2);

// axis titles
svg.append("text").attr("x",68).attr("y",367).attr("font-weight",700).attr("font-size",20.5).attr("fill","#000").text("B.M.I.");
svg.append("text").attr("x",68).attr("y",534).attr("font-weight",700).attr("font-size",20.5).attr("fill","#000").text("Body Fat");

// intro note
const intro=svg.append("g").attr("font-size",19.5).attr("fill","#111").style("letter-spacing","0.6px");
const l1=intro.append("text").attr("x",114).attr("y",56);
l1.append("tspan").attr("font-weight",700).text("Women");
l1.append("tspan").text(" are considered to have");
intro.append("text").attr("x",114).attr("y",82).text("excess body fat at over 35%.");

// direction hints
const hint="#9a9a9a";
svg.append("text").attr("x",583).attr("y",110).attr("text-anchor","end").attr("font-size",17).attr("font-weight",300).attr("fill",hint).text("Less fat");
svg.append("text").attr("x",606).attr("y",110).attr("font-size",17).attr("font-weight",300).attr("fill",hint).text("More fat");
svg.append("path").attr("d","M580,85H537M542,81.5L537,85L542,88.5").attr("stroke",hint).attr("stroke-width",1.5).attr("fill","none");
svg.append("path").attr("d","M606,85H649M644,81.5L649,85L644,88.5").attr("stroke",hint).attr("stroke-width",1.5).attr("fill","none");
svg.append("text").attr("x",240).attr("y",346).attr("text-anchor","end").attr("font-size",17).attr("font-weight",300).attr("fill",hint).text("Overweight");
svg.append("text").attr("x",240).attr("y",407).attr("text-anchor","end").attr("font-size",17).attr("font-weight",300).attr("fill",hint).text("Normal or");
svg.append("text").attr("x",240).attr("y",428).attr("text-anchor","end").attr("font-size",17).attr("font-weight",300).attr("fill",hint).text("underweight");
svg.append("path").attr("d","M254.5,355V312M251,317L254.5,312L258,317").attr("stroke",hint).attr("stroke-width",1.5).attr("fill","none");
svg.append("path").attr("d","M254.5,395V438M251,433L254.5,438L258,433").attr("stroke",hint).attr("stroke-width",1.5).attr("fill","none");

// quadrant shares
svg.append("text").attr("x",980).attr("y",280).attr("font-size",21.5).attr("font-weight",700).attr("fill","#999").text("58%");
svg.append("text").attr("x",416).attr("y",491).attr("font-size",21.5).attr("font-weight",700).attr("fill","#999").text("24%");

// annotations
function note(x0,y0,title,boldLead,lines){
  const g=svg.append("g").attr("fill","#111").style("paint-order","stroke").attr("stroke","#fff").attr("stroke-width",4).attr("stroke-linejoin","round");
  g.append("text").attr("x",x0).attr("y",y0).attr("font-size",21).attr("font-weight",700).style("letter-spacing","0.3px").text(title);
  lines.forEach((ln,i)=>{
    const t=g.append("text").attr("x",x0+10).attr("y",y0+22+i*22).attr("font-size",17.5).style("letter-spacing","0.2px");
    if(i===0){t.append("tspan").attr("font-weight",700).text(boldLead);}
    t.append("tspan").text(ln);
  });
}
note(356,248,"\u201cHealthy Obese\u201d","3%",[" of women had an","overweight B.M.I. but","less than 35% body fat"]);
note(671,437,"\u201cSkinny Fat\u201d","15%",[" of women had a normal","or underweight B.M.I. but","more than 35% body fat"]);
</script>
</body></html>
